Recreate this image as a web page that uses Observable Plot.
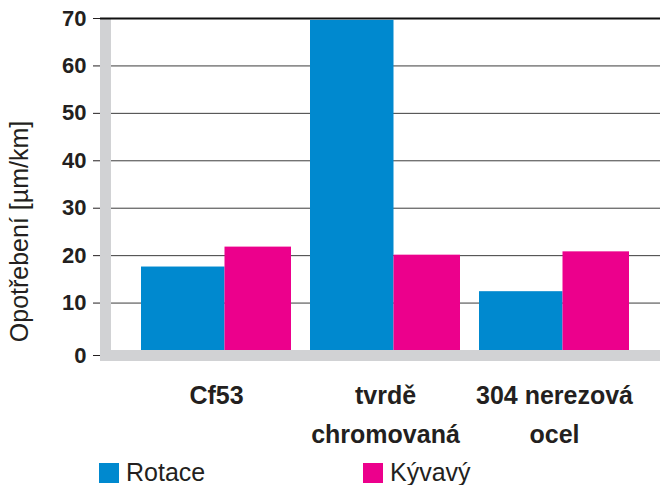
<!DOCTYPE html>
<html>
<head>
<meta charset="utf-8">
<script src="https://cdn.jsdelivr.net/npm/d3@7"></script>
<script src="https://cdn.jsdelivr.net/npm/@observablehq/plot@0.6"></script>
<style>
  html, body { margin: 0; padding: 0; background: #fff; }
  #wrap { position: relative; width: 660px; height: 485px; font-family: "Liberation Sans", Arial, sans-serif; color: #231f20; }
  .legend { position: absolute; top: 458px; left: 0; width: 660px; height: 29px; }
  .item { position: absolute; top: 0; display: flex; align-items: center; font-size: 25px; line-height: 29px; }
  .sw { width: 20px; height: 20px; margin-right: 7px; }
</style>
</head>
<body>
<div id="wrap"></div>
<script>
const categories = ["Cf53", "tvrdě\nchromovaná", "304 nerezová\nocel"];
const seriesNames = ["Rotace", "Kývavý"];
const rotace = [17.6, 69.6, 12.4];
const kyvavy = [21.8, 20.1, 20.8];
const yTicks = [0, 10, 20, 30, 40, 50, 60, 70];
const colors = ["#0089cf", "#ec008c"];
const yTitle = "Opotřebení [µm/km]";

const rotData = categories.map((c, i) => ({category: c, value: rotace[i]}));
const kyvData = categories.map((c, i) => ({category: c, value: kyvavy[i]}));

const ink = "#231f20";
const wallColor = "#d1d2d4";

const walls = (index, scales, values, dims) => {
  const g = d3.create("svg:g");
  const y0 = scales.y(0), yTop = scales.y(70);
  g.append("rect").attr("x", dims.marginLeft).attr("y", yTop)
    .attr("width", 11).attr("height", y0 + 11 - yTop).attr("fill", wallColor);
  g.append("rect").attr("x", dims.marginLeft).attr("y", y0)
    .attr("width", dims.width - dims.marginLeft).attr("height", 11).attr("fill", wallColor);
  return g.node();
};

const chart = Plot.plot({
  width: 660,
  height: 485,
  marginLeft: 100,
  marginRight: 0,
  marginTop: 18,
  marginBottom: 135,
  style: {fontFamily: '"Liberation Sans", Arial, sans-serif', color: ink, background: "#fff"},
  x: {domain: categories, range: [111, 660], paddingInner: 0.112, paddingOuter: 0.176, axis: null},
  y: {domain: [0, 70], range: [350, 18], axis: null},
  marks: [
    Plot.gridY(yTicks.filter(t => t > 0 && t < 70), {stroke: "#3c3c3c", strokeOpacity: 1, strokeWidth: 1}),
    walls,
    Plot.ruleY([70], {stroke: "#111", strokeWidth: 2}),
    Plot.rectY(rotData, {x: "category", y: "value", fill: colors[0], insetRight: 66.5}),
    Plot.rectY(kyvData, {x: "category", y: "value", fill: colors[1], insetLeft: 83.5}),
    Plot.axisY(yTicks.filter(t => t > 0), {tickSize: 7, tickPadding: 7, fontSize: 22, fontWeight: "bold", stroke: ink, fill: ink, label: null}),
    Plot.axisY([0], {tickSize: 7, tickPadding: 7, fontSize: 22, fontWeight: "bold", stroke: ink, fill: ink, dy: 5, label: null}),
    Plot.axisX({tickSize: 0, tickPadding: 26, fontSize: 25, fontWeight: "bold", lineHeight: 1.56, fill: ink, label: null}),
    Plot.text([yTitle], {frameAnchor: "left", dx: -73, dy: 47, rotate: -90, fontSize: 25, fill: ink, textAnchor: "middle", lineAnchor: "bottom"})
  ]
});

const wrap = document.getElementById("wrap");
wrap.appendChild(chart);

const legend = document.createElement("div");
legend.className = "legend";
const lefts = [99, 363];
seriesNames.forEach((name, i) => {
  const item = document.createElement("div");
  item.className = "item";
  item.style.left = lefts[i] + "px";
  const sw = document.createElement("div");
  sw.className = "sw";
  sw.style.background = colors[i];
  const t = document.createElement("span");
  t.textContent = name;
  item.appendChild(sw);
  item.appendChild(t);
  legend.appendChild(item);
});
wrap.appendChild(legend);
</script>
</body>
</html>
